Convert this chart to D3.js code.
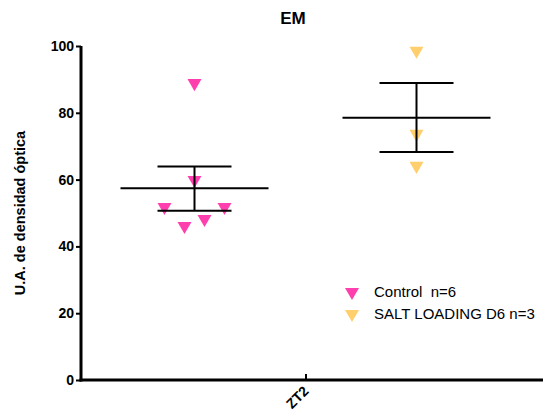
<!DOCTYPE html>
<html>
<head>
<meta charset="utf-8">
<script src="https://cdn.jsdelivr.net/npm/d3@7"></script>
<style>
body { margin: 0; background: #fff; }
text { font-family: Arial, "Liberation Sans", sans-serif; }
</style>
</head>
<body>
<svg id="chart"></svg>
<script>
let groups = ["Control  n=6", "SALT LOADING D6 n=3"]
let colors = ["#ff3fae", "#ffcf6e"]
let controlValues = [88.9, 59.9, 51.8, 51.8, 48.2, 46.1]
let controlOffsets = [0, 0, -30, 30, 10, -10]
let saltValues = [98.6, 73.7, 64.1]
let saltOffsets = [0, 0, 0]
let means = [57.4, 78.5]
let upper = [63.9, 88.9]
let lower = [50.7, 68.3]
let yTicks = [0, 20, 40, 60, 80, 100]
let category = "ZT2"

let width = 543
let height = 418

let svg = d3.select('#chart')
    .attr('width', width)
    .attr('height', height)

let xScale = d3.scalePoint()
    .domain([category])
    .range([81, 530])
let yScale = d3.scaleLinear()
    .domain([0, 100])
    .range([380, 46])

// group positions, offset from category tick
let groupX = d3.scaleLinear().domain([0, 1]).range([-111, 111])

let yAxis = d3.axisLeft(yScale).tickValues(yTicks).tickSize(5).tickPadding(2)
let gy = svg.append('g')
    .attr('transform', 'translate(81,0)')
    .call(yAxis)
gy.select('.domain').attr('stroke-width', 3).attr('d', 'M0,' + yScale(100) + 'V' + (yScale(0) + 1.5))
gy.selectAll('.tick line').attr('stroke-width', 2)
gy.selectAll('.tick text').attr('font-size', 14).attr('font-weight', 'bold').attr('fill', '#000')

let xAxis = d3.axisBottom(xScale).tickSizeInner(-6).tickSizeOuter(0).tickFormat('')
let gx = svg.append('g')
    .attr('transform', 'translate(0,380)')
    .call(xAxis)
gx.select('.domain').attr('stroke-width', 3).attr('d', 'M79.5,0H543')
gx.selectAll('.tick line').attr('stroke-width', 2)
svg.append('text')
    .attr('transform', 'translate(' + (xScale(category) + 4) + ',392) rotate(-45)')
    .attr('text-anchor', 'end')
    .attr('font-size', 14)
    .attr('font-weight', 'bold')
    .text(category)

svg.append('text')
    .attr('x', 293).attr('y', 24)
    .attr('text-anchor', 'middle')
    .attr('font-size', 17)
    .attr('font-weight', 'bold')
    .text('EM')

svg.append('text')
    .attr('transform', 'translate(25,213) rotate(-90)')
    .attr('text-anchor', 'middle')
    .attr('font-size', 14.5)
    .attr('font-weight', 'bold')
    .text('U.A. de densidad óptica')

let tri = d3.symbol().type(d3.symbolTriangle).size(85)

let series = [
    { values: controlValues, offsets: controlOffsets },
    { values: saltValues, offsets: saltOffsets }
]

series.forEach((s, i) => {
    let cx = xScale(category) + groupX(i)
    svg.append('g').selectAll('path')
        .data(s.values)
        .enter()
        .append('path')
        .attr('d', tri)
        .attr('fill', colors[i])
        .attr('transform', (d, j) => 'translate(' + (cx + s.offsets[j]) + ',' + yScale(d) + ') rotate(180)')
})

// mean and SEM bars drawn on top
series.forEach((s, i) => {
    let cx = xScale(category) + groupX(i)
    let g = svg.append('g').attr('stroke', '#000').attr('stroke-width', 2)
    g.append('line').attr('x1', cx - 74).attr('x2', cx + 74)
        .attr('y1', yScale(means[i])).attr('y2', yScale(means[i]))
    g.append('line').attr('x1', cx).attr('x2', cx)
        .attr('y1', yScale(upper[i])).attr('y2', yScale(lower[i]))
    g.append('line').attr('x1', cx - 37).attr('x2', cx + 37)
        .attr('y1', yScale(upper[i])).attr('y2', yScale(upper[i]))
    g.append('line').attr('x1', cx - 37).attr('x2', cx + 37)
        .attr('y1', yScale(lower[i])).attr('y2', yScale(lower[i]))
})

let legend = svg.append('g')
groups.forEach((name, i) => {
    let y = 292 + i * 22
    legend.append('path')
        .attr('d', tri)
        .attr('fill', colors[i])
        .attr('transform', 'translate(352,' + y + ') rotate(180)')
    legend.append('text')
        .attr('x', 374).attr('y', y + 5)
        .attr('font-size', 15)
        .style('white-space', 'pre')
        .text(name)
})
</script>
</body>
</html>
